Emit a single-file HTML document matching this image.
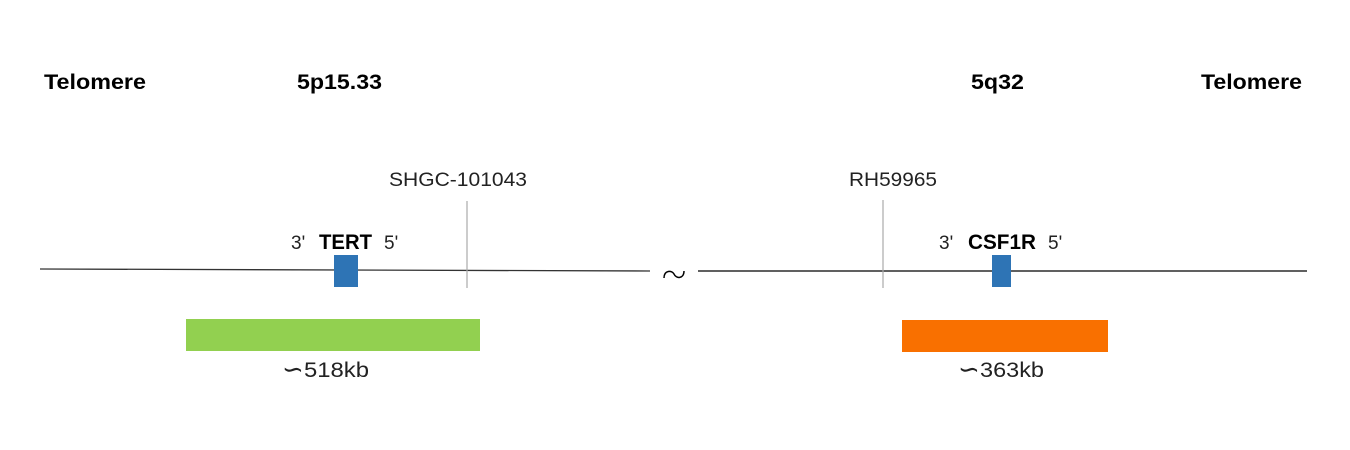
<!DOCTYPE html>
<html><head><meta charset="utf-8"><style>html,body{margin:0;padding:0;background:#fff}svg{display:block}</style></head>
<body>
<svg width="1350" height="450" xmlns="http://www.w3.org/2000/svg" font-family="Liberation Sans, sans-serif">
<rect width="1350" height="450" fill="#fff"/>
<g font-weight="bold" font-size="21" fill="#000">
<text x="44" y="89" textLength="102" lengthAdjust="spacingAndGlyphs">Telomere</text>
<text x="297" y="89" textLength="85" lengthAdjust="spacingAndGlyphs">5p15.33</text>
<text x="971" y="89" textLength="53" lengthAdjust="spacingAndGlyphs">5q32</text>
<text x="1201" y="89" textLength="101" lengthAdjust="spacingAndGlyphs">Telomere</text>
</g>
<g font-size="19" fill="#222">
<text x="389" y="186" textLength="138" lengthAdjust="spacingAndGlyphs">SHGC-101043</text>
<text x="849" y="186" textLength="88" lengthAdjust="spacingAndGlyphs">RH59965</text>
<text x="291" y="249">3'</text>
<text x="384" y="249">5'</text>
<text x="939" y="249">3'</text>
<text x="1048" y="249">5'</text>
</g>
<g font-size="21" fill="#222">
<text x="282" y="378" font-size="26">∽</text>
<text x="304" y="377" textLength="65" lengthAdjust="spacingAndGlyphs">518kb</text>
<text x="958" y="378" font-size="26">∽</text>
<text x="980" y="377" textLength="64" lengthAdjust="spacingAndGlyphs">363kb</text>
</g>
<g font-size="21" font-weight="bold" fill="#000">
<text x="319" y="249" textLength="53" lengthAdjust="spacingAndGlyphs">TERT</text>
<text x="968" y="249" textLength="68" lengthAdjust="spacingAndGlyphs">CSF1R</text>
</g>
<line x1="40" y1="269" x2="650" y2="271" stroke="#333" stroke-width="1.3"/>
<line x1="698" y1="271" x2="1307" y2="271" stroke="#000" stroke-width="1.3"/>
<path d="M664 278 C664 270, 672 270, 674 274 C676 279, 684 279, 684 271" fill="none" stroke="#000" stroke-width="1.5"/>
<line x1="467" y1="201" x2="467" y2="288" stroke="#aaa" stroke-width="1.2"/>
<line x1="883" y1="200" x2="883" y2="288" stroke="#aaa" stroke-width="1.2"/>
<rect x="334" y="255" width="24" height="32" fill="#2e74b5"/>
<rect x="992" y="255" width="19" height="32" fill="#2e74b5"/>
<rect x="186" y="319" width="294" height="32" fill="#92d050"/>
<rect x="902" y="320" width="206" height="32" fill="#f97000"/>
</svg>
</body></html>
